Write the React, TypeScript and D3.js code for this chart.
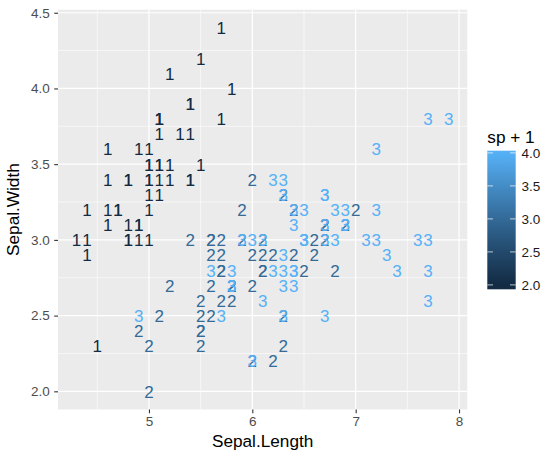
import React, { useRef, useEffect } from "react";
import { select, scaleLinear, axisBottom, axisLeft, interpolateLab, range } from "d3";

// iris: Sepal.Length / Sepal.Width, grouped by species (1, 2, 3)
const setosaLength = [5.1, 4.9, 4.7, 4.6, 5.0, 5.4, 4.6, 5.0, 4.4, 4.9, 5.4, 4.8, 4.8, 4.3, 5.8, 5.7, 5.4, 5.1, 5.7, 5.1, 5.4, 5.1, 4.6, 5.1, 4.8, 5.0, 5.0, 5.2, 5.2, 4.7, 4.8, 5.4, 5.2, 5.5, 4.9, 5.0, 5.5, 4.9, 4.4, 5.1, 5.0, 4.5, 4.4, 5.0, 5.1, 4.8, 5.1, 4.6, 5.3, 5.0];
const setosaWidth = [3.5, 3.0, 3.2, 3.1, 3.6, 3.9, 3.4, 3.4, 2.9, 3.1, 3.7, 3.4, 3.0, 3.0, 4.0, 4.4, 3.9, 3.5, 3.8, 3.8, 3.4, 3.7, 3.6, 3.3, 3.4, 3.0, 3.4, 3.5, 3.4, 3.2, 3.1, 3.4, 4.1, 4.2, 3.1, 3.2, 3.5, 3.6, 3.0, 3.4, 3.5, 2.3, 3.2, 3.5, 3.8, 3.0, 3.8, 3.2, 3.7, 3.3];
const versicolorLength = [7.0, 6.4, 6.9, 5.5, 6.5, 5.7, 6.3, 4.9, 6.6, 5.2, 5.0, 5.9, 6.0, 6.1, 5.6, 6.7, 5.6, 5.8, 6.2, 5.6, 5.9, 6.1, 6.3, 6.1, 6.4, 6.6, 6.8, 6.7, 6.0, 5.7, 5.5, 5.5, 5.8, 6.0, 5.4, 6.0, 6.7, 6.3, 5.6, 5.5, 5.5, 6.1, 5.8, 5.0, 5.6, 5.7, 5.7, 6.2, 5.1, 5.7];
const versicolorWidth = [3.2, 3.2, 3.1, 2.3, 2.8, 2.8, 3.3, 2.4, 2.9, 2.7, 2.0, 3.0, 2.2, 2.9, 2.9, 3.1, 3.0, 2.7, 2.2, 2.5, 3.2, 2.8, 2.5, 2.8, 2.9, 3.0, 2.8, 3.0, 2.9, 2.6, 2.4, 2.4, 2.7, 2.7, 3.0, 3.4, 3.1, 2.3, 3.0, 2.5, 2.6, 3.0, 2.6, 2.3, 2.7, 3.0, 2.9, 2.9, 2.5, 2.8];
const virginicaLength = [6.3, 5.8, 7.1, 6.3, 6.5, 7.6, 4.9, 7.3, 6.7, 7.2, 6.5, 6.4, 6.8, 5.7, 5.8, 6.4, 6.5, 7.7, 7.7, 6.0, 6.9, 5.6, 7.7, 6.3, 6.7, 7.2, 6.2, 6.1, 6.4, 7.2, 7.4, 7.9, 6.4, 6.3, 6.1, 7.7, 6.3, 6.4, 6.0, 6.9, 6.7, 6.9, 5.8, 6.8, 6.7, 6.7, 6.3, 6.5, 6.2, 5.9];
const virginicaWidth = [3.3, 2.7, 3.0, 2.9, 3.0, 3.0, 2.5, 2.9, 2.5, 3.6, 3.2, 2.7, 3.0, 2.5, 2.8, 3.2, 3.0, 3.8, 2.6, 2.2, 3.2, 2.8, 2.8, 2.7, 3.3, 3.2, 2.8, 3.0, 2.8, 3.0, 2.8, 3.8, 2.8, 2.8, 2.6, 3.0, 3.4, 3.1, 3.0, 3.1, 3.1, 3.1, 2.7, 3.2, 3.3, 3.0, 2.5, 3.0, 3.4, 3.0];

const xTicks = [5, 6, 7, 8];
const yTicks = [2.0, 2.5, 3.0, 3.5, 4.0, 4.5];
const legendTicks = [2.0, 2.5, 3.0, 3.5, 4.0];

interface Row {
  x: number;
  y: number;
  sp: number;
}

const rows: Row[] = [
  ...setosaLength.map((x, i) => ({ x, y: setosaWidth[i], sp: 1 })),
  ...versicolorLength.map((x, i) => ({ x, y: versicolorWidth[i], sp: 2 })),
  ...virginicaLength.map((x, i) => ({ x, y: virginicaWidth[i], sp: 3 })),
];

const W = 544;
const H = 453;
const FONT = "'Liberation Sans', Arial, sans-serif";

const App: React.FC = () => {
  const svgRef = useRef<SVGSVGElement>(null);

  useEffect(() => {
    const svg = select(svgRef.current);
    svg.selectAll("*").remove();

    const panel = { left: 58, right: 467.3, top: 9.7, bottom: 409.5 };

    // scales (ggplot default 5% expansion)
    const xScale = scaleLinear().domain([4.12, 8.08]).range([panel.left, panel.right]);
    const yScale = scaleLinear().domain([1.88, 4.52]).range([panel.bottom, panel.top]);
    const colour = scaleLinear<string>()
      .domain([2, 4])
      .range(["#132B43", "#56B1F7"])
      .interpolate(interpolateLab);

    // panel background
    svg
      .append("rect")
      .attr("x", panel.left)
      .attr("y", panel.top)
      .attr("width", panel.right - panel.left)
      .attr("height", panel.bottom - panel.top)
      .attr("fill", "#EBEBEB");

    // grid lines
    const grid = svg.append("g").attr("stroke", "#FFFFFF").attr("fill", "none");
    [4.5, 5.5, 6.5, 7.5].forEach((v) =>
      grid.append("line").attr("x1", xScale(v)).attr("x2", xScale(v))
        .attr("y1", panel.top).attr("y2", panel.bottom).attr("stroke-width", 0.6)
    );
    [2.25, 2.75, 3.25, 3.75, 4.25].forEach((v) =>
      grid.append("line").attr("y1", yScale(v)).attr("y2", yScale(v))
        .attr("x1", panel.left).attr("x2", panel.right).attr("stroke-width", 0.6)
    );
    xTicks.forEach((v) =>
      grid.append("line").attr("x1", xScale(v)).attr("x2", xScale(v))
        .attr("y1", panel.top).attr("y2", panel.bottom).attr("stroke-width", 1.2)
    );
    yTicks.forEach((v) =>
      grid.append("line").attr("y1", yScale(v)).attr("y2", yScale(v))
        .attr("x1", panel.left).attr("x2", panel.right).attr("stroke-width", 1.2)
    );

    // axes
    const xAxisG = svg
      .append("g")
      .attr("transform", `translate(0,${panel.bottom})`)
      .call(axisBottom(xScale).tickValues(xTicks).tickSizeOuter(0).tickSize(3.8).tickPadding(3.5).tickFormat((d) => String(d)));
    const yAxisG = svg
      .append("g")
      .attr("transform", `translate(${panel.left},0)`)
      .call(axisLeft(yScale).tickValues(yTicks).tickSizeOuter(0).tickSize(3.8).tickPadding(4.5).tickFormat((d) => (d as number).toFixed(1)));

    [xAxisG, yAxisG].forEach((axisG) => {
      axisG.select(".domain").remove();
      axisG.selectAll("line").attr("stroke", "#333333").attr("stroke-width", 1.1);
      axisG.selectAll("text").attr("fill", "#4D4D4D").attr("font-size", 13.5).attr("font-family", FONT);
    });

    // labels of the points
    svg
      .append("g")
      .selectAll("text")
      .data(rows)
      .join("text")
      .attr("x", (d) => xScale(d.x))
      .attr("y", (d) => yScale(d.y))
      .attr("dy", "0.38em")
      .attr("text-anchor", "middle")
      .attr("font-size", 17)
      .attr("font-family", FONT)
      .attr("fill", (d) => colour(d.sp + 1))
      .text((d) => String(d.sp));

    // axis titles
    svg
      .append("text")
      .attr("x", (panel.left + panel.right) / 2)
      .attr("y", 446.5)
      .attr("text-anchor", "middle")
      .attr("font-size", 17.2)
      .attr("font-family", FONT)
      .text("Sepal.Length");
    svg
      .append("text")
      .attr("transform", `translate(19,${(panel.top + panel.bottom) / 2}) rotate(-90)`)
      .attr("text-anchor", "middle")
      .attr("font-size", 17.2)
      .attr("font-family", FONT)
      .text("Sepal.Width");

    // legend: colour bar
    const bar = { x: 487.3, w: 28.4, top: 150.7, bottom: 289.3 };
    const legendScale = scaleLinear().domain([2, 4]).range([284.9, 152.9]);
    const lg = svg.append("g");
    lg.append("text")
      .attr("x", bar.x)
      .attr("y", 143)
      .attr("font-size", 17.2)
      .attr("font-family", FONT)
      .text("sp + 1");

    const grad = svg
      .append("defs")
      .append("linearGradient")
      .attr("id", "spGrad")
      .attr("x1", 0)
      .attr("x2", 0)
      .attr("y1", 1)
      .attr("y2", 0);
    range(21).forEach((i) => {
      const y = bar.bottom - (i / 20) * (bar.bottom - bar.top);
      const v = Math.max(2, Math.min(4, legendScale.invert(y)));
      grad.append("stop").attr("offset", i / 20).attr("stop-color", colour(v));
    });
    lg.append("rect")
      .attr("x", bar.x)
      .attr("y", bar.top)
      .attr("width", bar.w)
      .attr("height", bar.bottom - bar.top)
      .attr("fill", "url(#spGrad)");

    legendTicks.forEach((v) => {
      const y = legendScale(v);
      lg.append("line").attr("x1", bar.x).attr("x2", bar.x + bar.w / 5)
        .attr("y1", y).attr("y2", y).attr("stroke", "#FFFFFF").attr("stroke-width", 0.7);
      lg.append("line").attr("x1", bar.x + (bar.w * 4) / 5).attr("x2", bar.x + bar.w)
        .attr("y1", y).attr("y2", y).attr("stroke", "#FFFFFF").attr("stroke-width", 0.7);
      lg.append("text")
        .attr("x", 521.5)
        .attr("y", y)
        .attr("dy", "0.36em")
        .attr("font-size", 13.5)
        .attr("font-family", FONT)
        .attr("fill", "#1A1A1A")
        .text(v.toFixed(1));
    });
  }, []);

  return (
    <svg
      ref={svgRef}
      width={W}
      height={H}
      viewBox={`0 0 ${W} ${H}`}
      style={{ position: "absolute", left: 0, top: 0, background: "#FFFFFF" }}
    />
  );
};

export default App;
